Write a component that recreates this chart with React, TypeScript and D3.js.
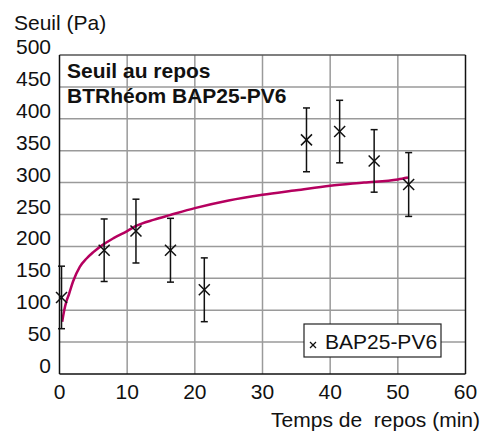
import React from "react";
import * as d3 from "d3";

const xTicks = [0, 10, 20, 30, 40, 50, 60];
const yTicks = [0, 50, 100, 150, 200, 250, 300, 350, 400, 450, 500];

const pointTimes = [0.3, 6.6, 11.3, 16.4, 21.4, 36.5, 41.4, 46.5, 51.6];
const pointValues = [120, 194, 224, 194, 132, 367, 380, 334, 297];
const pointErrors = [49, 49, 50, 50, 50, 50, 49, 49, 50];

const curveTimes = [0.4, 0.7, 1.0, 1.4, 2, 3, 4, 5, 6.6, 8, 10, 11.3, 14, 16.3, 20, 25, 30, 35, 40, 45, 50, 51.5];
const curveValues = [82, 100, 113, 125, 145, 168, 181, 191, 204, 213, 224, 232, 242, 249, 260, 272, 281, 288, 295, 300, 305, 308];

const seriesName = "BAP25-PV6";

export default function App() {
  const W = 484, H = 433;
  const left = 59.5, right = 465.5, top = 55, bottom = 374;
  const x = d3.scaleLinear().domain([0, 60]).range([left, right]);
  const y = d3.scaleLinear().domain([0, 500]).range([bottom, top]);
  const line = d3.line<number>()
    .x((_, i) => x(curveTimes[i]))
    .y((d) => y(d))
    .curve(d3.curveMonotoneX);
  const font = "'Liberation Sans', Arial, Helvetica, sans-serif";
  const fs = 21;
  const m = 5.5;
  return (
    <svg width={W} height={H} style={{ position: "absolute", left: 0, top: 0 }} fontFamily={font}>
      <rect width={W} height={H} fill="#fff" />
      {/* grid */}
      {xTicks.slice(1, -1).map((t) => (
        <line key={"gx" + t} x1={x(t)} x2={x(t)} y1={top} y2={bottom} stroke="#9a9a9a" strokeWidth={1.5} />
      ))}
      {yTicks.slice(1, -1).map((t) => (
        <line key={"gy" + t} x1={left} x2={right} y1={y(t)} y2={y(t)} stroke="#9a9a9a" strokeWidth={1.5} />
      ))}
      {/* frame */}
      <line x1={left} x2={right} y1={top} y2={top} stroke="#555" strokeWidth={1.5} />
      <line x1={right} x2={right} y1={top} y2={bottom} stroke="#111" strokeWidth={1.5} />
      <line x1={left} x2={left} y1={top} y2={bottom} stroke="#111" strokeWidth={1.5} />
      <line x1={left} x2={right} y1={bottom} y2={bottom} stroke="#111" strokeWidth={1.5} />
      {/* y ticks */}
      {yTicks.map((t) => (
        <text key={"ty" + t} x={51} y={y(t) - 1} fontSize={fs} textAnchor="end" fill="#111">{t}</text>
      ))}
      {xTicks.map((t) => (
        <text key={"tx" + t} x={x(t)} y={399} fontSize={fs} textAnchor="middle" fill="#111">{t}</text>
      ))}
      <text x={14} y={30} fontSize={fs} fill="#111">Seuil (Pa)</text>
      <text x={480} y={427} fontSize={fs} textAnchor="end" fill="#111" style={{ whiteSpace: "pre" }}>{"Temps de  repos (min)"}</text>
      <text x={67} y={78} fontSize={fs} fontWeight="bold" fill="#111">Seuil au repos</text>
      <text x={67} y={102.5} fontSize={fs} fontWeight="bold" fill="#111">BTRhéom BAP25-PV6</text>
      {/* curve */}
      <path d={line(curveValues) || ""} fill="none" stroke="#b5005f" strokeWidth={2.5} />
      {/* points */}
      {pointTimes.map((t, i) => {
        const cx = x(t), cy = y(pointValues[i]);
        const y1 = y(pointValues[i] + pointErrors[i]);
        const y2 = y(pointValues[i] - pointErrors[i]);
        return (
          <g key={"p" + i} stroke="#111" strokeWidth={1.5}>
            <line x1={cx} x2={cx} y1={y1} y2={y2} />
            <line x1={cx - 3.5} x2={cx + 3.5} y1={y1} y2={y1} />
            <line x1={cx - 3.5} x2={cx + 3.5} y1={y2} y2={y2} />
            <line x1={cx - m} x2={cx + m} y1={cy - m} y2={cy + m} />
            <line x1={cx - m} x2={cx + m} y1={cy + m} y2={cy - m} />
          </g>
        );
      })}
      {/* legend */}
      <rect x={304} y={324} width={137} height={33} fill="#fff" stroke="#222" strokeWidth={1.2} />
      <g stroke="#111" strokeWidth={1.3}>
        <line x1={310} x2={316} y1={342} y2={348} />
        <line x1={310} x2={316} y1={348} y2={342} />
      </g>
      <text x={325} y={349} fontSize={fs} fill="#111">{seriesName}</text>
    </svg>
  );
}
